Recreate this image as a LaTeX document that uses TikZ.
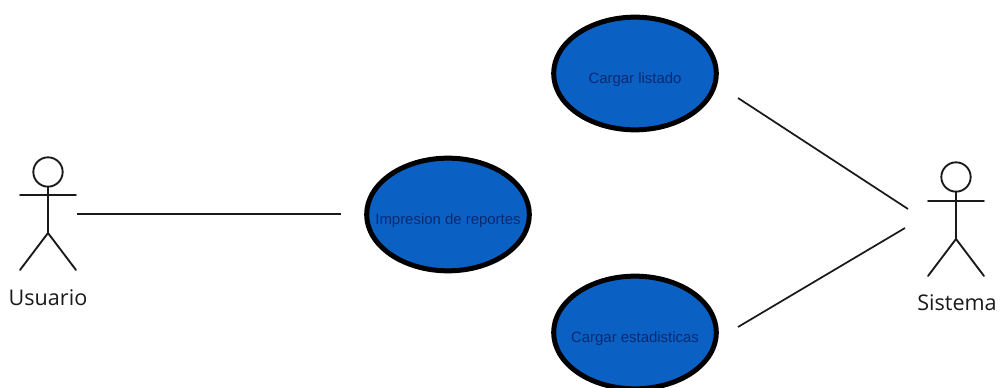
\documentclass[tikz,border=0pt]{standalone}
\usepackage{fontspec}
\setmainfont{Liberation Sans}
\newfontfamily\labelfont{Open Sans}
\usetikzlibrary{shapes.geometric}
\definecolor{ucfill}{HTML}{0B60C4}
\definecolor{uctext}{HTML}{0A2A70}
\definecolor{ink}{HTML}{1A1A1A}
\newcommand{\uctxt}[1]{\raisebox{-7.5pt}[0pt][0pt]{\makebox[0pt][c]{#1}}}
\tikzset{
  usecase/.style={ellipse,draw=black,line width=3.75pt,fill=ucfill,text=uctext,
    minimum width=122pt,minimum height=84.5pt,inner sep=0pt,outer sep=0pt,font=\fontsize{11.2}{13}\selectfont},
  stick/.style={draw=ink,line width=1.4pt,line cap=round},
  link/.style={draw=ink,line width=1.3pt},
  actorlabel/.style={text=ink,inner sep=0pt,font=\labelfont\fontsize{16.2}{18}\selectfont},
  headshape/.style={circle,draw=ink,line width=1.4pt,minimum size=22pt,inner sep=0pt,outer sep=0pt}
}
\begin{document}
\begin{tikzpicture}[x=0.75pt,y=-0.75pt]
\useasboundingbox (0,0) rectangle (1003,388);
\fill[white] (0,0) rectangle (1003,388);
% use cases
\node[usecase] (listado) at (635,73.5) {\uctxt{Cargar listado}};
\node[usecase] (reportes) at (448,214.5) {\uctxt{Impresion de reportes}};
\node[usecase] (estad) at (635,332.5) {\uctxt{Cargar estadisticas}};
% actor Usuario
\node[headshape] (uhead) at (48,172) {};
\coordinate (uarmL) at (20,195);
\coordinate (uarmR) at (76,195);
\coordinate (uhip) at (48,233);
\coordinate (ufootL) at (20,270);
\coordinate (ufootR) at (76,270);
\draw[stick] (uhead.south) -- (uhip);
\draw[stick] (uarmL) -- (uarmR);
\draw[stick] (ufootL) -- (uhip) -- (ufootR);
\node[actorlabel] (ulabel) at (48,298) {Usuario};
% actor Sistema
\node[headshape] (shead) at (956,177) {};
\coordinate (sarmL) at (928,201);
\coordinate (sarmR) at (984,201);
\coordinate (ship) at (956,239);
\coordinate (sfootL) at (928,276);
\coordinate (sfootR) at (984,276);
\draw[stick] (shead.south) -- (ship);
\draw[stick] (sarmL) -- (sarmR);
\draw[stick] (sfootL) -- (ship) -- (sfootR);
\node[actorlabel] (slabel) at (957,303) {Sistema};
% connector ends
\coordinate (c1a) at (77,214);
\coordinate (c1b) at (341,214);
\coordinate (c2a) at (738,98);
\coordinate (c2b) at (908,209);
\coordinate (c3a) at (738,327);
\coordinate (c3b) at (905,228);
\draw[link] (c1a) -- (c1b);
\draw[link] (c2a) -- (c2b);
\draw[link] (c3a) -- (c3b);
\end{tikzpicture}
\end{document}
